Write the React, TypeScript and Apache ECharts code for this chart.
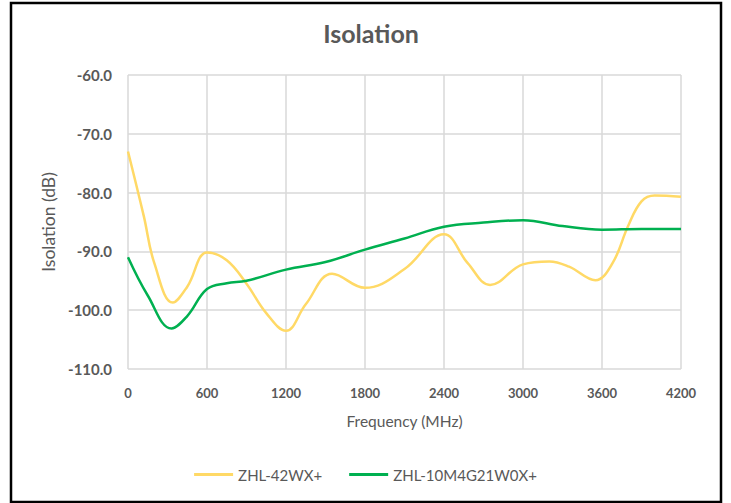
import React, { useEffect, useRef } from "react";
import * as echarts from "echarts";

const titleText = "Isolation";
const xAxisName = "Frequency (MHz)";
const yAxisName = "Isolation (dB)";
const seriesNames = ["ZHL-42WX+", "ZHL-10M4G21W0X+"];
const seriesColors = ["#FFD966", "#00B050"];

const yellowFreq = [0, 120, 200, 340, 450, 600, 750, 900, 1050, 1200, 1350, 1550, 1800, 2100, 2400, 2580, 2750, 3000, 3200, 3350, 3550, 3680, 3800, 3900, 4000, 4200];
const yellowDb = [-73, -84, -92, -98.7, -96, -90.2, -91.5, -95.5, -100.5, -103.5, -99, -93.8, -96.2, -93, -87.1, -92, -95.7, -92.2, -91.7, -92.6, -94.9, -92, -85.6, -81.5, -80.5, -80.7];

const greenFreq = [0, 150, 330, 450, 600, 750, 900, 1200, 1500, 1800, 2100, 2400, 2700, 3000, 3300, 3600, 3900, 4200];
const greenDb = [-91, -97.5, -103.1, -101, -96.4, -95.4, -95, -93.1, -91.8, -89.7, -87.8, -85.8, -85.1, -84.7, -85.7, -86.3, -86.2, -86.2];

const FONT = "Lato, 'Open Sans', sans-serif";
const TEXT = "#595959";

export default function App() {
  const ref = useRef<HTMLDivElement>(null);
  useEffect(() => {
    document.body.style.margin = "0";
    const chart = echarts.init(ref.current!, undefined, { renderer: "svg" });
    const yellow = yellowFreq.map((f, i) => [f, yellowDb[i]]);
    const green = greenFreq.map((f, i) => [f, greenDb[i]]);
    chart.setOption({
      animation: false,
      backgroundColor: "#fff",
      textStyle: { fontFamily: FONT },
      title: {
        text: titleText,
        left: 366,
        top: 15,
        textAlign: "center",
        textStyle: { fontSize: 25, fontWeight: "bold", color: TEXT, fontFamily: FONT },
      },
      graphic: [
        {
          type: "rect",
          shape: { x: 11, y: 3, width: 710, height: 499 },
          style: { fill: "none", stroke: "#000", lineWidth: 2.5 },
          z: 100,
        },
      ],
      grid: { left: 128, right: 50, top: 75, bottom: 134 },
      legend: {
        bottom: 16,
        left: "center",
        data: seriesNames.map((n) => ({ name: n, icon: "rect" })),
        itemWidth: 39,
        itemHeight: 3,
        itemGap: 27,
        textStyle: { fontSize: 15, color: TEXT, fontFamily: FONT },
      },
      xAxis: {
        type: "value",
        min: 0,
        max: 4200,
        interval: 600,
        name: xAxisName,
        nameLocation: "middle",
        nameGap: 44,
        nameTextStyle: { fontSize: 15.5, color: TEXT, fontFamily: FONT },
        axisLine: { show: false },
        axisTick: { show: false },
        axisLabel: {
          margin: 17,
          fontSize: 13,
          fontWeight: "bold",
          color: TEXT,
          fontFamily: FONT,
          formatter: (v: number) => String(v),
        },
        splitLine: { show: true, lineStyle: { color: "#D9D9D9", width: 1.5 } },
      },
      yAxis: {
        type: "value",
        min: -110,
        max: -60,
        interval: 10,
        name: yAxisName,
        nameLocation: "middle",
        nameGap: 71,
        nameTextStyle: { fontSize: 17.5, color: TEXT, fontFamily: FONT },
        axisLine: { show: false },
        axisTick: { show: false },
        axisLabel: {
          margin: 16,
          fontSize: 15,
          fontWeight: "bold",
          color: TEXT,
          fontFamily: FONT,
          formatter: (v: number) => v.toFixed(1),
        },
        splitLine: { show: true, lineStyle: { color: "#D9D9D9", width: 1.5 } },
      },
      series: [
        {
          name: seriesNames[0],
          type: "line",
          data: yellow,
          smooth: 0.4,
          showSymbol: false,
          symbol: "none",
          lineStyle: { color: seriesColors[0], width: 2.5 },
          itemStyle: { color: seriesColors[0] },
        },
        {
          name: seriesNames[1],
          type: "line",
          data: green,
          smooth: 0.4,
          showSymbol: false,
          symbol: "none",
          lineStyle: { color: seriesColors[1], width: 2.5 },
          itemStyle: { color: seriesColors[1] },
        },
      ],
    });
    return () => chart.dispose();
  }, []);
  return <div ref={ref} style={{ width: 731, height: 503 }} />;
}
